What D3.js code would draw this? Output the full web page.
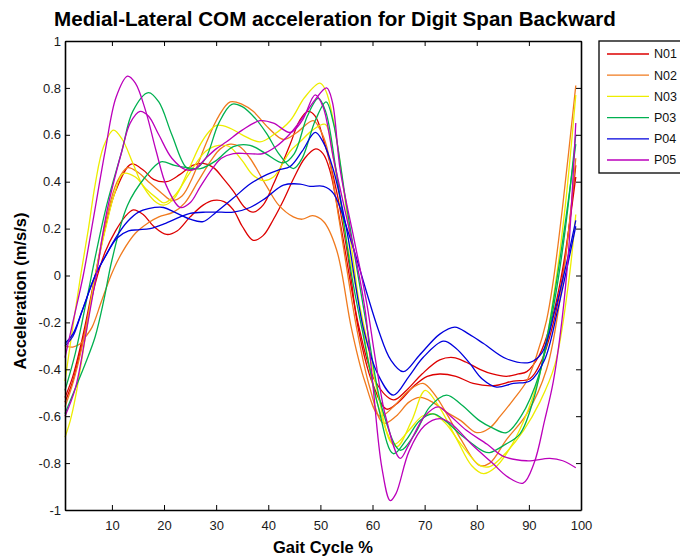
<!DOCTYPE html>
<html><head><meta charset="utf-8">
<script src="https://cdn.jsdelivr.net/npm/d3@7"></script>
<style>body{margin:0;background:#fff}svg{display:block}</style>
</head><body><svg id="c" width="680" height="558"></svg>
<script>
// ---- data ----
const participants = ["N01","N02","N03","P03","P04","P05"];
const seriesColors = ["#dd0000","#f07a1e","#eded00","#00b050","#0000dd","#bb00bb"];
const xTicks = [10,20,30,40,50,60,70,80,90,100];
const yTicks = [-1,-0.8,-0.6,-0.4,-0.2,0,0.2,0.4,0.6,0.8,1];

const n01_t1 = [[1,-0.52],[2.5,-0.43],[4.3,-0.27],[6.8,0.0],[8.7,0.2],[10.7,0.36],[13.7,0.475],[16,0.45],[18,0.41],[20.5,0.40],[23,0.43],[25.5,0.47],[27.5,0.478],[29.5,0.46],[31.5,0.41],[33.3,0.36],[35.5,0.29],[37.1,0.27],[39,0.3],[41,0.39],[44.2,0.56],[46,0.66],[47.6,0.70],[49,0.68],[50.6,0.58],[53.1,0.36],[55.5,0.05],[57.3,-0.23],[60,-0.46],[62.7,-0.57],[65,-0.54],[68,-0.47],[70.5,-0.43],[72.9,-0.42],[76,-0.43],[79.3,-0.46],[83.2,-0.47],[87,-0.45],[90.2,-0.44],[92.5,-0.36],[94.5,-0.22],[96.5,0.0],[99,0.47]];
const n01_t2 = [[1,-0.54],[2.5,-0.45],[4.3,-0.29],[6.8,-0.035],[8.7,0.1],[10.7,0.19],[12.5,0.25],[14.1,0.28],[16,0.26],[18,0.21],[20.5,0.175],[22.5,0.19],[25,0.25],[27.5,0.30],[29.5,0.32],[31.5,0.315],[33.3,0.28],[35,0.21],[37.1,0.15],[39,0.17],[41,0.24],[42.9,0.32],[45,0.42],[47,0.5],[49.1,0.54],[50.5,0.52],[51.8,0.45],[54,0.2],[57.5,-0.23],[60.5,-0.45],[64,-0.53],[66.5,-0.49],[69.5,-0.42],[72.9,-0.36],[75.5,-0.35],[78,-0.37],[80.6,-0.40],[83,-0.42],[85.7,-0.43],[88,-0.42],[89.6,-0.41],[92,-0.34],[94.5,-0.18],[96.5,0.03],[99,0.42]];
const n02_t1 = [[1,-0.30],[2.5,-0.305],[4,-0.29],[5,-0.26],[6.2,-0.22],[8,-0.11],[10,0.01],[12,0.10],[14.5,0.18],[17,0.225],[19,0.25],[21.8,0.27],[24,0.31],[26.5,0.40],[29,0.49],[30.8,0.54],[32.7,0.56],[34.5,0.55],[36.5,0.5],[39.7,0.38],[42,0.3],[44.8,0.25],[46.5,0.24],[48.5,0.255],[50.6,0.23],[53.1,0.11],[56,-0.23],[58.5,-0.45],[61.4,-0.60],[64,-0.56],[67,-0.49],[69.7,-0.46],[72,-0.51],[74.5,-0.6],[77,-0.7],[80.5,-0.81],[82.5,-0.80],[85.7,-0.70],[89.6,-0.59],[93.4,-0.40],[96.3,-0.05],[99,0.50]];
const n02_t2 = [[1,-0.56],[2.5,-0.46],[4.3,-0.3],[6.8,0.0],[9,0.25],[11,0.4],[13,0.46],[15,0.44],[17,0.40],[19.6,0.35],[21.5,0.32],[23.5,0.34],[25.5,0.42],[28,0.56],[30.5,0.68],[32.7,0.74],[35,0.73],[37.1,0.70],[40,0.63],[42.9,0.58],[45.5,0.61],[48.6,0.66],[50,0.62],[51.2,0.55],[53.5,0.25],[57,-0.23],[59.5,-0.48],[62.1,-0.63],[64.5,-0.6],[67,-0.54],[69.1,-0.52],[71.5,-0.54],[74,-0.58],[77,-0.62],[80,-0.67],[82.5,-0.65],[84.5,-0.60],[87,-0.53],[89.6,-0.45],[91.5,-0.34],[93.4,-0.19],[94.7,-0.02],[96.5,0.3],[99,0.81]];
const n03_t1 = [[1,-0.45],[2.5,-0.22],[4,0.0],[5.5,0.2],[6.8,0.39],[8.4,0.55],[10.3,0.62],[12,0.58],[14,0.48],[16,0.38],[18.6,0.31],[20,0.30],[22,0.33],[24.5,0.44],[27,0.56],[28.5,0.61],[30.1,0.64],[32.5,0.63],[35,0.6],[38.4,0.57],[41,0.6],[44.2,0.66],[47,0.76],[49.9,0.82],[51,0.79],[52.5,0.66],[55,0.28],[58.2,-0.23],[61,-0.55],[64.6,-0.73],[67.5,-0.62],[70.1,-0.49],[72.5,-0.55],[76.2,-0.70],[79,-0.81],[81.3,-0.845],[83.5,-0.82],[85.7,-0.76],[89,-0.62],[92.1,-0.42],[95,-0.05],[97,0.3],[99,0.77]];
const n03_t2 = [[1,-0.69],[2,-0.62],[3,-0.52],[5,-0.25],[7,0.02],[9,0.22],[10.5,0.35],[12.2,0.435],[14.5,0.42],[16.5,0.37],[18.6,0.33],[20,0.31],[22,0.34],[25,0.44],[28,0.53],[30.5,0.555],[32.5,0.55],[35,0.49],[37,0.43],[39,0.405],[41,0.42],[44.2,0.53],[46.1,0.57],[48.5,0.62],[50.9,0.645],[52.5,0.5],[55,0.15],[58.5,-0.23],[61,-0.5],[64,-0.72],[67,-0.66],[69.5,-0.6],[71.6,-0.59],[74,-0.63],[77,-0.72],[80.6,-0.81],[82.5,-0.815],[85,-0.77],[89,-0.66],[92.1,-0.54],[95,-0.38],[97.5,-0.05],[99,0.26]];
const p03_t1 = [[1,-0.49],[3,-0.33],[5,-0.12],[7,0.1],[9,0.3],[11.9,0.53],[14,0.7],[17,0.78],[19,0.74],[21.5,0.6],[24.3,0.46],[26,0.455],[28,0.5],[30.5,0.65],[33,0.73],[35,0.72],[37.5,0.67],[39.7,0.605],[42,0.52],[44.8,0.456],[46.5,0.5],[49,0.66],[51.1,0.74],[52.5,0.65],[55,0.3],[59,-0.23],[62,-0.58],[65.3,-0.745],[68,-0.68],[71,-0.56],[74.2,-0.51],[77,-0.55],[80.6,-0.62],[83,-0.65],[85.7,-0.67],[88.5,-0.6],[92,-0.42],[95,-0.1],[97,0.2],[99,0.60]];
const p03_t2 = [[1,-0.59],[3,-0.48],[5,-0.37],[6.8,-0.26],[8.5,-0.1],[10,0.065],[13,0.3],[16.4,0.42],[19.4,0.485],[22,0.47],[24.5,0.46],[27,0.456],[30,0.49],[33.3,0.55],[36.5,0.555],[39.5,0.52],[42.9,0.48],[45,0.52],[47.5,0.68],[49.6,0.755],[51,0.7],[53,0.45],[56,0.0],[58,-0.23],[61,-0.55],[64,-0.76],[66.5,-0.7],[69,-0.62],[71.6,-0.59],[74,-0.62],[77,-0.68],[81.3,-0.75],[82.5,-0.755],[85.5,-0.72],[88.3,-0.675],[91,-0.52],[94,-0.2],[96.5,0.15],[99,0.56]];
const p04_t1 = [[1,-0.29],[2.5,-0.25],[4.3,-0.15],[6.8,0.0],[8.7,0.08],[11,0.17],[13,0.23],[15.1,0.27],[17,0.285],[19.9,0.29],[22,0.27],[25,0.24],[27.5,0.23],[30,0.27],[33.3,0.33],[36.5,0.39],[39.7,0.43],[42,0.45],[44.2,0.465],[46.5,0.53],[49,0.61],[50.5,0.57],[52.5,0.45],[55,0.2],[58.3,-0.23],[61,-0.42],[64,-0.51],[67,-0.43],[69.7,-0.35],[73.6,-0.28],[76,-0.31],[78.7,-0.376],[81,-0.44],[83.8,-0.476],[87,-0.46],[90.2,-0.45],[93,-0.36],[95.5,-0.15],[97,0.0],[99,0.21]];
const p04_t2 = [[1,-0.30],[2.5,-0.26],[4.3,-0.15],[6.8,0.0],[8.7,0.08],[11,0.16],[13.2,0.19],[15,0.195],[17.3,0.20],[20,0.22],[23.1,0.25],[25,0.265],[28,0.27],[31,0.27],[33.3,0.27],[36.5,0.29],[39.5,0.33],[42.9,0.385],[46.1,0.39],[48,0.38],[50.6,0.38],[52.5,0.35],[55.7,0.16],[61.1,-0.23],[63.5,-0.36],[65.9,-0.41],[69,-0.34],[72.9,-0.25],[75.8,-0.22],[78.5,-0.25],[81.3,-0.29],[85.7,-0.355],[90.2,-0.37],[92.5,-0.33],[95,-0.15],[97,0.03],[99,0.235]];
const p05_t1 = [[1,-0.35],[2.5,-0.2],[4.5,0.0],[6.5,0.25],[8.7,0.53],[10.8,0.76],[13,0.85],[14.5,0.82],[16.5,0.7],[18.5,0.53],[20.5,0.38],[23.1,0.29],[25,0.31],[27,0.38],[29.4,0.46],[31,0.5],[33.3,0.52],[36,0.52],[39,0.52],[41.5,0.55],[44,0.6],[46.5,0.67],[49,0.75],[51.2,0.80],[52.3,0.74],[53.8,0.45],[56.5,0.15],[58.9,-0.12],[60.5,-0.35],[62.5,-0.6],[65.3,-0.78],[67,-0.72],[70,-0.6],[72.6,-0.56],[75,-0.6],[78,-0.66],[82,-0.72],[85,-0.77],[89.6,-0.79],[94,-0.78],[96.5,-0.79],[99,-0.82]];
const p05_t2 = [[1,-0.60],[3,-0.48],[5,-0.25],[7,0.0],[9,0.27],[11.9,0.53],[13.5,0.65],[15.4,0.70],[17,0.68],[19,0.6],[21.5,0.5],[24.3,0.45],[26,0.455],[28,0.5],[30,0.54],[32,0.57],[35,0.62],[38.4,0.66],[41,0.65],[44.2,0.61],[46.5,0.66],[49,0.77],[50.5,0.72],[52.5,0.5],[55,0.25],[57,0.05],[58.6,-0.15],[60,-0.45],[61.8,-0.82],[63.4,-0.96],[64.5,-0.93],[67,-0.75],[70,-0.64],[72.9,-0.61],[75,-0.63],[79,-0.72],[83,-0.8],[86,-0.86],[88.9,-0.885],[91,-0.8],[93,-0.62],[94.7,-0.45],[96.3,-0.2],[97.6,0.1],[99,0.65]];

const trialsByParticipant = [[n01_t1,n01_t2],[n02_t1,n02_t2],[n03_t1,n03_t2],[p03_t1,p03_t2],[p04_t1,p04_t2],[p05_t1,p05_t2]];

// ---- drawing ----
const svg = d3.select("#c");
const FONT = "'Liberation Sans', Arial, Helvetica, sans-serif";
const L = 65, R = 581, T = 41, B = 510;
const x = d3.scaleLinear().domain([1,100]).range([L,R]);
const y = d3.scaleLinear().domain([-1,1]).range([B,T]);

svg.append("rect").attr("width",680).attr("height",558).attr("fill","#fff");

const line = d3.line().x(d=>x(d[0])).y(d=>y(d[1])).curve(d3.curveCatmullRom.alpha(0.5));
const plot = svg.append("g");
trialsByParticipant.forEach((trials,i)=>{
  trials.forEach(t=>{
    plot.append("path").attr("d",line(t)).attr("fill","none")
      .attr("stroke",seriesColors[i]).attr("stroke-width",1.3);
  });
});

const fmt = v => (Math.round(v*10)/10).toString();
function styleAxis(g){
  g.selectAll("path.domain").attr("stroke","#000").attr("stroke-width",1.6);
  g.selectAll(".tick line").attr("stroke","#000").attr("stroke-width",1);
  g.selectAll("text").attr("font-family",FONT).attr("font-size",13).attr("fill","#1a1a1a");
}
svg.append("g").attr("transform",`translate(0,${B})`)
  .call(d3.axisBottom(x).tickValues(xTicks).tickSize(-5).tickSizeOuter(0).tickPadding(11).tickFormat(d3.format("d")))
  .call(styleAxis);
svg.append("g").attr("transform",`translate(${L},0)`)
  .call(d3.axisLeft(y).tickValues(yTicks).tickSize(-5).tickSizeOuter(0).tickPadding(4).tickFormat(fmt))
  .call(styleAxis);
svg.append("g").attr("transform",`translate(0,${T})`)
  .call(d3.axisTop(x).tickValues(xTicks).tickSize(-5).tickSizeOuter(0).tickFormat(""))
  .call(styleAxis);
svg.append("g").attr("transform",`translate(${R},0)`)
  .call(d3.axisRight(y).tickValues(yTicks).tickSize(-5).tickSizeOuter(0).tickFormat(""))
  .call(styleAxis);

// title & labels
svg.append("text").attr("x",335).attr("y",26).attr("text-anchor","middle")
  .attr("font-family",FONT).attr("font-weight","bold").attr("font-size",20.6)
  .text("Medial-Lateral COM acceleration for Digit Span Backward");
svg.append("text").attr("x",(L+R)/2).attr("y",553).attr("text-anchor","middle")
  .attr("font-family",FONT).attr("font-weight","bold").attr("font-size",16.5)
  .text("Gait Cycle %");
svg.append("text").attr("transform",`translate(26,291) rotate(-90)`).attr("text-anchor","middle")
  .attr("font-family",FONT).attr("font-weight","bold").attr("font-size",16.5)
  .text("Acceleration (m/s/s)");

// legend
const lg = svg.append("g");
lg.append("rect").attr("x",599).attr("y",41).attr("width",95).attr("height",132)
  .attr("fill","#fff").attr("stroke","#000").attr("stroke-width",1.3);
participants.forEach((p,i)=>{
  const yy = 54 + i*21.2;
  lg.append("line").attr("x1",607).attr("x2",649).attr("y1",yy).attr("y2",yy)
    .attr("stroke",seriesColors[i]).attr("stroke-width",1.3);
  lg.append("text").attr("x",654).attr("y",yy).attr("dy","0.35em")
    .attr("font-family",FONT).attr("font-size",12.5).attr("fill","#111").text(p);
});
</script></body></html>
